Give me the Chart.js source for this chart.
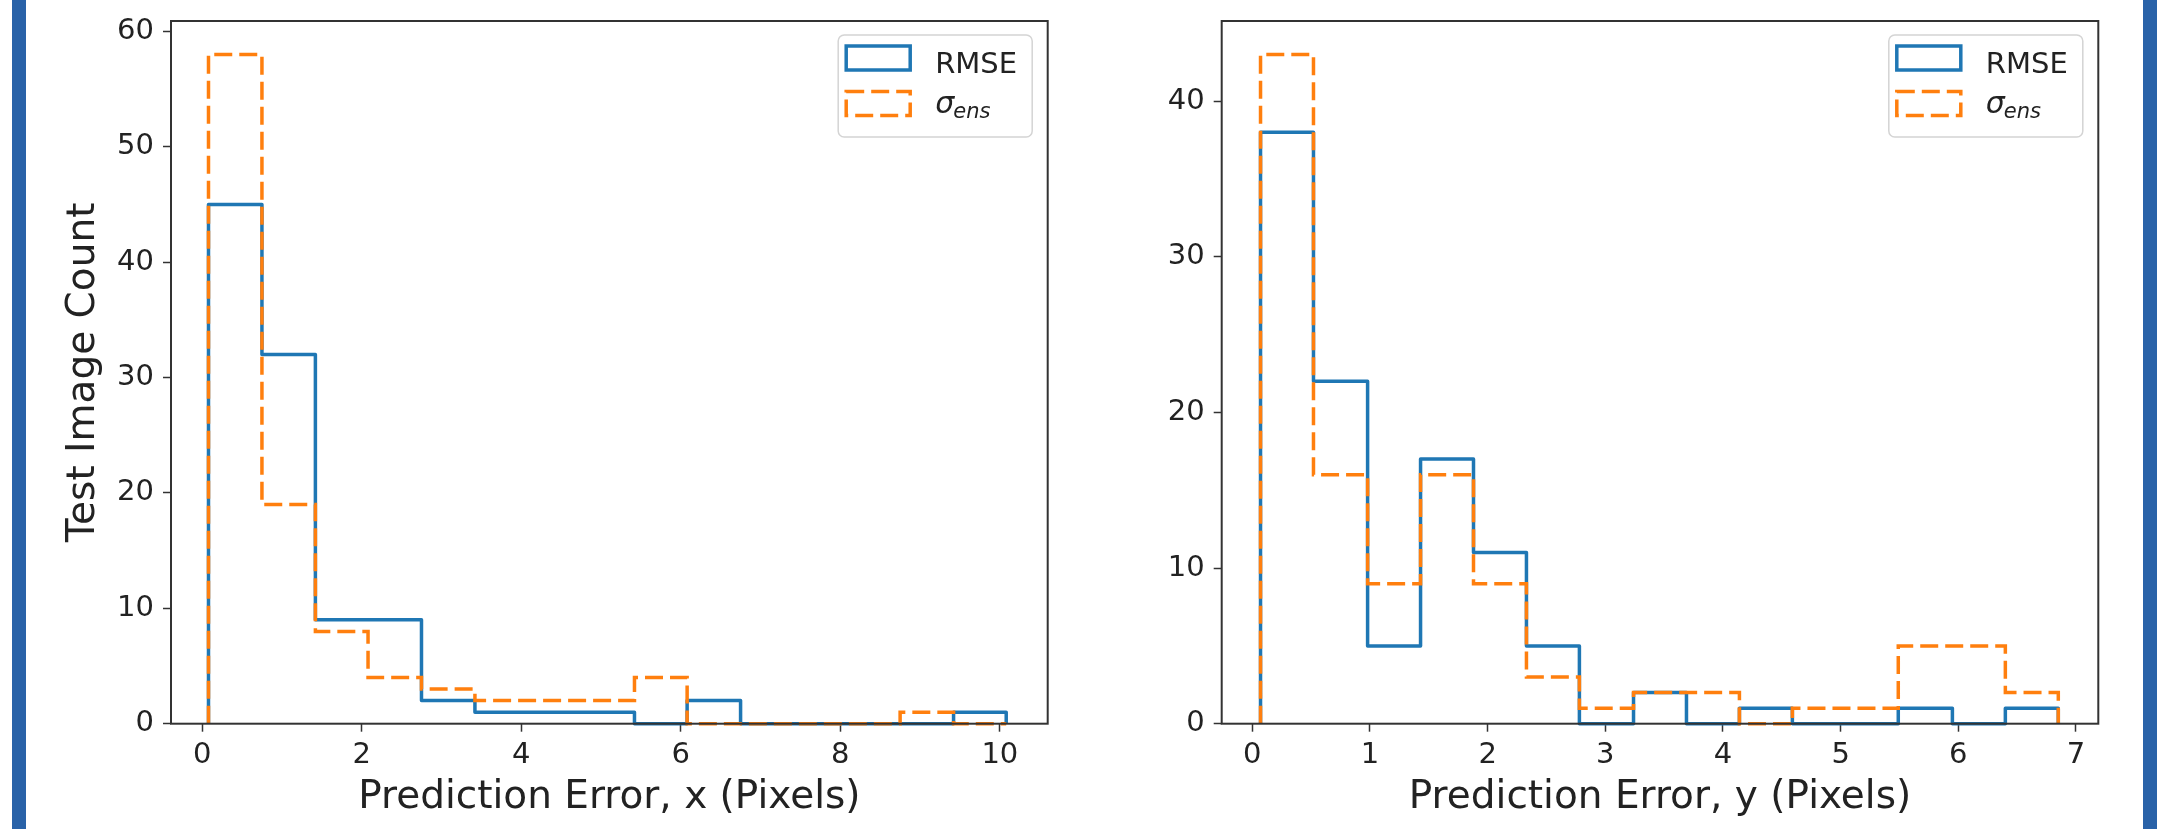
<!DOCTYPE html>
<html>
<head>
<meta charset="utf-8">
<script src="https://cdn.jsdelivr.net/npm/chart.js@4.4.0/dist/chart.umd.min.js"></script>
<style>
  html, body { margin: 0; padding: 0; background: #fff; }
  body { width: 2184px; height: 829px; position: relative; overflow: hidden; }
  .panel { position: absolute; top: 0; width: 1092px; height: 829px; }
  .edge { position: absolute; top: 0; width: 14px; height: 829px; background: #2962a8; z-index: 2; }
</style>
</head>
<body>
<div class="edge" style="left:12px"></div>
<div class="edge" style="left:2143px"></div>
<div class="panel" style="left:0"><canvas id="errX" width="1092" height="829"></canvas></div>
<div class="panel" style="left:1092px"><canvas id="errY" width="1092" height="829"></canvas></div>
<script>
// bin edges + counts (15 bins per panel)
const EDGES_X = [0.08, 0.75, 1.42, 2.08, 2.75, 3.42, 4.08, 4.75, 5.42, 6.08, 6.75, 7.42, 8.08, 8.75, 9.42, 10.08];
const RMSE_X  = [45, 32, 9, 9, 2, 1, 1, 1, 0, 2, 0, 0, 0, 0, 1];
const SIGMA_X = [58, 19, 8, 4, 3, 2, 2, 2, 4, 0, 0, 0, 0, 1, 0];

const EDGES_Y = [0.07, 0.52, 0.98, 1.43, 1.88, 2.33, 2.78, 3.24, 3.69, 4.14, 4.59, 5.04, 5.49, 5.95, 6.40, 6.85];
const RMSE_Y  = [38, 22, 5, 17, 11, 5, 0, 2, 0, 1, 0, 0, 1, 0, 1];
const SIGMA_Y = [43, 16, 9, 16, 9, 3, 1, 2, 2, 0, 1, 1, 5, 5, 2];

const TICKS_X_LEFT  = [0, 2, 4, 6, 8, 10];
const TICKS_X_RIGHT = [0, 1, 2, 3, 4, 5, 6, 7];
const TICKS_Y_LEFT  = [0, 10, 20, 30, 40, 50, 60];
const TICKS_Y_RIGHT = [0, 10, 20, 30, 40];

const SERIES_NAMES = ['RMSE', 'σ_ens'];

const BLUE = '#1f77b4';
const ORANGE = '#ff7f0e';
const INK = '#222';

Chart.defaults.font.family = "'DejaVu Sans', sans-serif";
Chart.defaults.color = INK;

// step outline like histtype='step'
function stepPoints(edges, counts) {
    const pts = [{ x: edges[0], y: 0 }];
    counts.forEach((c, i) => pts.push({ x: edges[i], y: c }));
    pts.push({ x: edges[edges.length - 1], y: 0 });
    return pts;
}

// four spines round the axes
const frame = {
    id: 'frame',
    afterDatasetsDraw(chart) {
        const { ctx, chartArea: a } = chart;
        ctx.save();
        ctx.lineWidth = 2;
        ctx.strokeStyle = '#333';
        ctx.strokeRect(a.left, a.top, a.right - a.left, a.bottom - a.top);
        ctx.restore();
    }
};

// matplotlib-style legend with outlined patches
const histLegend = {
    id: 'histLegend',
    afterDraw(chart) {
        const { ctx, chartArea: a } = chart;
        const w = 194, h = 102;
        const x = a.right - 15.5 - w, y = a.top + 14;
        ctx.save();
        ctx.beginPath();
        ctx.roundRect(x, y, w, h, 6);
        ctx.fillStyle = 'rgba(255,255,255,0.8)';
        ctx.fill();
        ctx.lineWidth = 1.5;
        ctx.strokeStyle = '#d4d4d4';
        ctx.stroke();

        chart.data.datasets.forEach((ds, i) => {
            const top = y + (i === 0 ? 11 : 56.5);
            ctx.setLineDash(ds.borderDash || []);
            ctx.strokeStyle = ds.borderColor;
            ctx.lineWidth = 3.5;
            ctx.strokeRect(x + 8, top, 64, 24);
            ctx.setLineDash([]);

            ctx.fillStyle = INK;
            ctx.textBaseline = 'alphabetic';
            ctx.textAlign = 'left';
            const parts = ds.label.split('_');
            if (parts.length === 1) {
                ctx.font = "29px 'DejaVu Sans'";
                ctx.fillText(parts[0], x + 97, y + 37.7);
            } else {
                ctx.font = "italic 30px 'DejaVu Sans'";
                ctx.fillText(parts[0], x + 97, y + 78.3);
                const bw = ctx.measureText(parts[0]).width;
                ctx.font = "italic 21px 'DejaVu Sans'";
                ctx.fillText(parts[1], x + 97 + bw - 1, y + 83.3);
            }
        });
        ctx.restore();
    }
};

function makeHist(id, o) {
    const tickGrid = {
        drawOnChartArea: false,
        drawTicks: true,
        tickLength: 8,
        tickWidth: 1.5,
        tickColor: '#333',
        color: '#333'
    };
    new Chart(document.getElementById(id), {
        type: 'line',
        data: {
            datasets: [{
                label: SERIES_NAMES[0],
                data: stepPoints(o.edges, o.rmse),
                borderColor: BLUE,
                borderWidth: 3.5,
                borderJoinStyle: 'round',
                stepped: 'before',
                pointRadius: 0,
                fill: false,
                clip: false,
                order: 2
            }, {
                label: SERIES_NAMES[1],
                data: stepPoints(o.edges, o.sigma),
                borderColor: ORANGE,
                borderWidth: 3.5,
                borderDash: [18, 7],
                stepped: 'before',
                pointRadius: 0,
                fill: false,
                clip: false,
                order: 1
            }]
        },
        options: {
            responsive: false,
            animation: false,
            devicePixelRatio: 1,
            layout: { padding: { top: 21, right: o.padRight, bottom: 0, left: 0 } },
            plugins: { legend: { display: false }, tooltip: { enabled: false } },
            scales: {
                x: {
                    type: 'linear',
                    min: o.xMin,
                    max: o.xMax,
                    afterBuildTicks: s => { s.ticks = o.xTicks.map(v => ({ value: v })); },
                    afterFit: s => { s.height = 105.3; s.paddingLeft = 0; s.paddingRight = 0; },
                    grid: tickGrid,
                    border: { display: false },
                    ticks: { font: { size: 29 }, padding: 6, maxRotation: 0, autoSkip: false, callback: v => String(v) },
                    title: { display: true, text: o.xTitle, font: { size: 39 }, padding: { top: 0, bottom: 7.5 } }
                },
                y: {
                    type: 'linear',
                    min: 0,
                    max: o.yMax,
                    afterBuildTicks: s => { s.ticks = o.yTicks.map(v => ({ value: v })); },
                    afterFit: s => { s.width = o.yWidth; s.paddingTop = 0; s.paddingBottom = 0; },
                    grid: tickGrid,
                    border: { display: false },
                    ticks: { font: { size: 29 }, padding: 9, autoSkip: false, callback: v => String(v) },
                    title: { display: !!o.yTitle, text: o.yTitle || '', font: { size: 39 }, padding: { top: 60.6, bottom: 0 } }
                }
            }
        },
        plugins: [frame, histLegend]
    });
}

makeHist('errX', {
    edges: EDGES_X, rmse: RMSE_X, sigma: SIGMA_X,
    xMin: -0.39, xMax: 10.6, yMax: 60.9,
    xTicks: TICKS_X_LEFT, yTicks: TICKS_Y_LEFT,
    xTitle: 'Prediction Error, x (Pixels)', yTitle: 'Test Image Count',
    yWidth: 171, padRight: 44.3
});

makeHist('errY', {
    edges: EDGES_Y, rmse: RMSE_Y, sigma: SIGMA_Y,
    xMin: -0.26, xMax: 7.19, yMax: 45.15,
    xTicks: TICKS_X_RIGHT, yTicks: TICKS_Y_RIGHT,
    xTitle: 'Prediction Error, y (Pixels)',
    yWidth: 129.7, padRight: 85.7
});
</script>
</body>
</html>
